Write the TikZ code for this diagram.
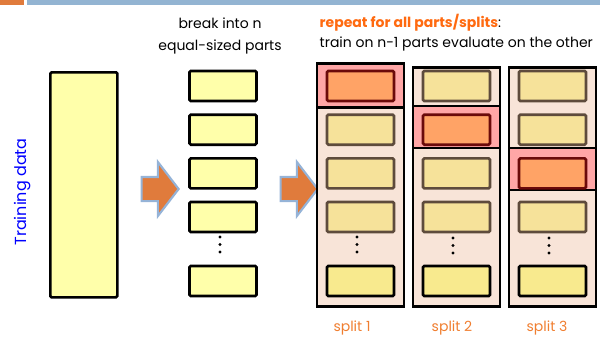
\documentclass[tikz,border=0pt]{standalone}
\usepackage{fontspec}
\setmainfont{Poppins}
\usetikzlibrary{positioning}
\usetikzlibrary{shapes.arrows}

\definecolor{partyellow}{HTML}{FFFFAA}
\definecolor{trainyellow}{HTML}{F6E29A}
\definecolor{lastyellow}{HTML}{F8EA8E}
\definecolor{trainborder}{HTML}{5E4B3C}
\definecolor{evalorange}{HTML}{FFA366}
\definecolor{evalborder}{HTML}{6B0A0A}
\definecolor{evalpink}{HTML}{FFA6A6}
\definecolor{columnpeach}{HTML}{F8E4D8}
\definecolor{arroworange}{HTML}{E07B3C}
\definecolor{arrowblue}{HTML}{95B3D7}
\definecolor{labelorange}{HTML}{F07E30}
\definecolor{titleorange}{HTML}{FF6A10}
\definecolor{barorange}{HTML}{E07B3C}
\definecolor{barblue}{HTML}{93B4D2}

\tikzset{
  part/.style={draw,line width=2pt,rounded corners=1pt,fill=partyellow,
    minimum width=50.25pt,minimum height=22.5pt,inner sep=0pt},
  trainpart/.style={part,draw=trainborder,fill=trainyellow},
  lastpart/.style={part,fill=lastyellow},
  evalpart/.style={part,draw=evalborder,fill=evalorange},
  column/.style={draw,line width=2pt,fill=columnpeach,anchor=north,
    minimum width=65.25pt,inner sep=0pt},
  highlight/.style={draw,line width=2pt,fill=evalpink,
    minimum width=65.25pt,minimum height=31.5pt,inner sep=0pt},
  blockarrow/.style={single arrow,draw=arrowblue,fill=arroworange,line width=1.6pt,
    minimum height=27.75pt,inner xsep=0pt,inner ysep=8.25pt,
    single arrow head extend=11.25pt,single arrow tip angle=105},
  splitlabel/.style={text=labelorange,font=\fontsize{10.5}{12}\selectfont},
  vdotsat/.style={insert path={circle[radius=1.6] ++(0,7.5) circle[radius=1.6] ++(0,7.5) circle[radius=1.6]}}
}

\begin{document}
\begin{tikzpicture}[x=0.75pt,y=-0.75pt]
  \useasboundingbox (0,0) rectangle (600,339);
  \fill[barorange] (0,0) rectangle (24,5);
  \fill[barblue] (27,0) rectangle (600,5);

  % the whole training set
  \node [draw,line width=2pt,rounded corners=1pt,fill=partyellow,anchor=north west,
    minimum width=50.25pt,minimum height=168.75pt,inner sep=0pt] (data) at (49,71) {};
  \node [rotate=90,text=blue,font=\fontsize{12}{14}\selectfont] (datalab) at (23,192) {Training data};

  \node [blockarrow] (arrow1) at (155.5,189) {};

  % n parts
  \node [align=center,font=\fontsize{10.5}{16}\selectfont] (breaklab) at (220,36)
    {break into n\\equal-sized parts};
  \node [part] (part_1) at (223,86) {};
  \node [part,below=8.25pt of part_1] (part_2) {};
  \node [part,below=8.25pt of part_2] (part_3) {};
  \node [part,below=8.25pt of part_3] (part_4) {};
  \node [part] (part_n) at (223,281) {};
  \coordinate (part_dots) at (220,237);
  \fill (part_dots) [vdotsat];

  \node [blockarrow] (arrow2) at (294.5,189) {};

  \node [anchor=west,font=\fontsize{10.5}{16}\selectfont] (repeatlab) at (315,23)
    {\textbf{\textcolor{titleorange}{repeat for all parts/splits}}:};
  \node [anchor=west,font=\fontsize{10.5}{16}\selectfont] (trainlab) at (315,44)
    {train on n-1 parts evaluate on the other};

  % split 1
  \node [column,minimum height=182.25pt] (col_1) at (360.5,62) {};
  \node [highlight,anchor=north,minimum height=33pt] (hl_1) at (360.5,62) {};
  \node [evalpart] (s1_1) at (360.5,86) {};
  \node [trainpart,below=8.25pt of s1_1] (s1_2) {};
  \node [trainpart,below=8.25pt of s1_2] (s1_3) {};
  \node [trainpart,below=8.25pt of s1_3] (s1_4) {};
  \node [lastpart] (s1_n) at (360.5,281) {};
  \coordinate (s1_dots) at (357,237);
  \fill (s1_dots) [vdotsat];
  \node [splitlabel] (split_1) at (352,328) {split 1};

  % split 2
  \node [column,minimum height=179.25pt] (col_2) at (456.5,66) {};
  \node [highlight] (hl_2) at (456.5,127) {};
  \node [trainpart] (s2_1) at (456.5,86) {};
  \node [evalpart,below=8.25pt of s2_1] (s2_2) {};
  \node [trainpart,below=8.25pt of s2_2] (s2_3) {};
  \node [trainpart,below=8.25pt of s2_3] (s2_4) {};
  \node [lastpart] (s2_n) at (456.5,281) {};
  \coordinate (s2_dots) at (453,238);
  \fill (s2_dots) [vdotsat];
  \node [splitlabel] (split_2) at (452,328) {split 2};

  % split 3
  \node [column,minimum height=179.25pt] (col_3) at (552.5,66) {};
  \node [highlight] (hl_3) at (552.5,169) {};
  \node [trainpart] (s3_1) at (552.5,86) {};
  \node [trainpart,below=8.25pt of s3_1] (s3_2) {};
  \node [evalpart,below=8.25pt of s3_2] (s3_3) {};
  \node [trainpart,below=8.25pt of s3_3] (s3_4) {};
  \node [lastpart] (s3_n) at (552.5,281) {};
  \coordinate (s3_dots) at (549,238);
  \fill (s3_dots) [vdotsat];
  \node [splitlabel] (split_3) at (547,328) {split 3};

\end{tikzpicture}
\end{document}
